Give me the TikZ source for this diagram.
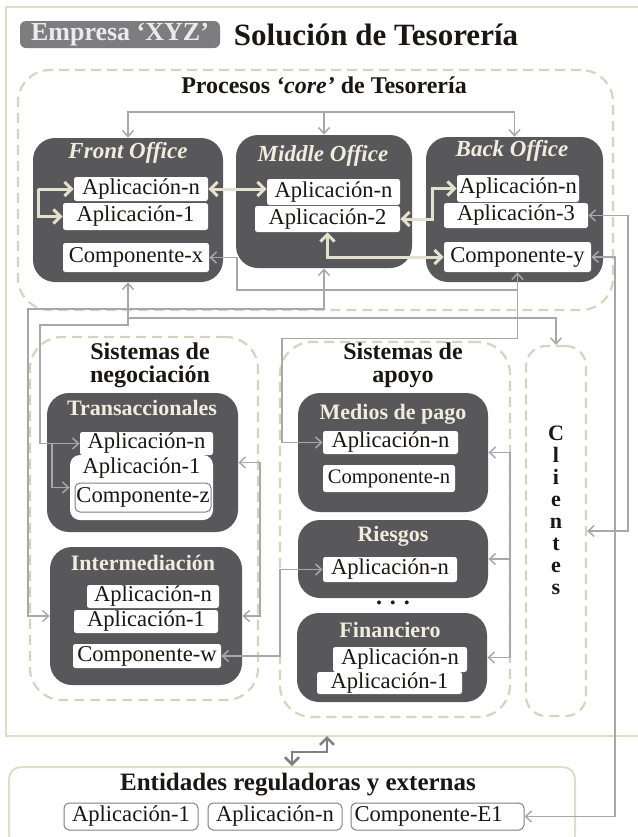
\documentclass[tikz,border=0pt]{standalone}
\usepackage{fontspec}
\setmainfont{Liberation Serif}
\usetikzlibrary{arrows.meta}

\definecolor{boxgray}{RGB}{88,88,90}
\definecolor{titlecream}{RGB}{240,236,222}
\definecolor{flowcream}{RGB}{228,224,206}
\definecolor{zonebeige}{RGB}{216,211,190}
\definecolor{linkgray}{RGB}{168,168,172}
\definecolor{framebeige}{RGB}{224,220,202}
\definecolor{tagfill}{RGB}{125,125,128}
\definecolor{inkblack}{RGB}{25,22,20}

\begin{document}
\begin{tikzpicture}[x=0.5pt, y=-0.5pt,
    office/.style={fill=boxgray, rounded corners=11pt, inner sep=0pt},
    app/.style={fill=white, rounded corners=1.2pt, inner sep=0pt, text=inkblack,
      font=\fontsize{11.3}{12}\selectfont},
    ext/.style={app, draw=gray, line width=0.5pt, rounded corners=2.5pt},
    boxtitle/.style={text=titlecream, font=\bfseries\fontsize{11}{12}\selectfont},
    zone/.style={draw=zonebeige, line width=1.1pt, dash pattern=on 5pt off 3pt,
      rounded corners=16pt, inner sep=0pt},
    zonetitle/.style={align=center, text=inkblack, font=\bfseries\fontsize{12}{11.5}\selectfont},
    link/.style={draw=linkgray, line width=0.75pt, >={Straight Barb[length=3pt,width=5.5pt]}},
    flow/.style={draw=flowcream, line width=1.5pt, >={Straight Barb[length=3.5pt,width=7pt]}},
    bigflow/.style={draw=gray, line width=1.3pt, >={Straight Barb[length=3.5pt,width=7pt]}}]

  \useasboundingbox (0,0) rectangle (638,837);

  \draw[framebeige, line width=1pt] (6,7) rectangle (660,736);

  \node[fill=tagfill, rounded corners=3pt, minimum width=100pt, minimum height=13.5pt,
    inner sep=0pt, text=white!92!black, font=\bfseries\fontsize{13}{14}\selectfont]
    (empresa) at (120,34.5) {Empresa ‘XYZ’};
  \node[text=inkblack, font=\bfseries\fontsize{15.5}{17}\selectfont] (titulo) at (376,35)
    {Solución de Tesorería};

  % zonas
  \node[zone, minimum width=297.5pt, minimum height=120pt] (core) at (315.5,190) {};
  \node[zone, minimum width=114pt, minimum height=181.5pt] (nego) at (144,518.5) {};
  \node[zone, minimum width=115pt, minimum height=187.5pt] (apoyo) at (395,529.5) {};
  \node[zone, minimum width=30pt, minimum height=185pt, rounded corners=10pt] (cl) at (556,531) {};

  \node[zonetitle] (core-title) at (324,85) {Procesos \textit{‘core’} de Tesorería};
  \node[zonetitle] (nego-title) at (150,365) {Sistemas de\\negociación};
  \node[zonetitle] (apoyo-title) at (403,365) {Sistemas de\\apoyo};
  \node[align=center, text=inkblack, font=\bfseries\fontsize{11}{11}\selectfont]
    (cl-title) at (556,510) {C\\l\\i\\e\\n\\t\\e\\s};

  % procesos core
  \node[office, minimum width=95pt, minimum height=72pt] (fo) at (128,210) {};
  \node[office, minimum width=88pt, minimum height=66.5pt] (mo) at (324,201.5) {};
  \node[office, minimum width=88.5pt, minimum height=72.5pt] (bo) at (514.5,209.5) {};
  \node[boxtitle, font=\bfseries\itshape\fontsize{11.5}{12}\selectfont] (fo-title) at (128,153) {Front Office};
  \node[boxtitle, font=\bfseries\itshape\fontsize{11.5}{12}\selectfont] (mo-title) at (323,156) {Middle Office};
  \node[boxtitle, font=\bfseries\itshape\fontsize{11.5}{12}\selectfont] (bo-title) at (512,151) {Back Office};

  \node[app, minimum width=67pt, minimum height=12pt] (fo-an) at (141,189) {Aplicación-n};
  \node[app, minimum width=72.5pt, minimum height=13.5pt] (fo-a1) at (135.5,216.5) {Aplicación-1};
  \node[app, minimum width=73pt, minimum height=14.5pt] (fo-cx) at (136,257.5) {Componente-x};
  \node[app, minimum width=66.5pt, minimum height=13pt] (mo-an) at (333.5,192) {Aplicación-n};
  \node[app, minimum width=72.5pt, minimum height=13pt] (mo-a2) at (327.5,219) {Aplicación-2};
  \node[app, minimum width=61pt, minimum height=13.5pt] (bo-an) at (518,188.5) {Aplicación-n};
  \node[app, minimum width=72pt, minimum height=12.5pt] (bo-a3) at (516,215.5) {Aplicación-3};
  \node[app, minimum width=73.5pt, minimum height=15pt] (bo-cy) at (517.5,257) {Componente-y};

  % sistemas de negociacion
  \node[office, minimum width=95.5pt, minimum height=69.5pt] (tr) at (142.5,462.5) {};
  \node[office, minimum width=96pt, minimum height=69pt] (im) at (146,616) {};
  \node[boxtitle] (tr-title) at (142,408) {Transaccionales};
  \node[boxtitle] (im-title) at (143,563) {Intermediación};

  \node[app, minimum width=66.5pt, minimum height=11.5pt] (tr-an) at (146.5,443.5) {Aplicación-n};
  \node[app, minimum width=71.5pt, minimum height=32.5pt, rounded corners=5pt] (tr-a1) at (141.5,487.5) {};
  \node[app] (tr-a1-title) at (141.5,468) {Aplicación-1};
  \node[ext, minimum width=68pt, minimum height=14.5pt] (tr-cz) at (143,497.5) {Componente-z};

  \node[app, minimum width=66pt, minimum height=11.5pt] (im-an) at (153,596.5) {Aplicación-n};
  \node[app, minimum width=72pt, minimum height=11.5pt] (im-a1) at (146,621.5) {Aplicación-1};
  \node[app, minimum width=74pt, minimum height=12pt] (im-cw) at (147,656) {Componente-w};

  % sistemas de apoyo
  \node[office, minimum width=95pt, minimum height=59.5pt] (me) at (393,452.5) {};
  \node[office, minimum width=95pt, minimum height=39pt] (ri) at (393,559) {};
  \node[office, minimum width=95pt, minimum height=44.5pt] (fi) at (392,657.5) {};
  \node[boxtitle] (me-title) at (393,414) {Medios de pago};
  \node[boxtitle] (ri-title) at (393,536) {Riesgos};
  \node[boxtitle] (fi-title) at (390,630) {Financiero};
  \node[text=inkblack, font=\bfseries\fontsize{12}{12}\selectfont] (dots) at (393,603) {. . .};

  \node[app, minimum width=67.5pt, minimum height=11.5pt] (me-an) at (390.5,442.5) {Aplicación-n};
  \node[app, minimum width=66pt, minimum height=13.5pt, font=\fontsize{10.3}{12}\selectfont] (me-cn) at (389,478.5) {Componente-n};
  \node[app, minimum width=67pt, minimum height=12.5pt] (ri-an) at (390,569.5) {Aplicación-n};
  \node[app, minimum width=67pt, minimum height=12.5pt] (fi-an) at (400,659.5) {Aplicación-n};
  \node[app, minimum width=72.5pt, minimum height=11pt] (fi-a1) at (389.5,683) {Aplicación-1};

  % entidades
  \node[draw=framebeige, line width=1pt, rounded corners=6pt, minimum width=283pt,
    minimum height=40pt] (en) at (292,807) {};
  \node[text=inkblack, font=\bfseries\fontsize{12.5}{14}\selectfont] (en-title) at (298,785)
    {Entidades reguladoras y externas};
  \node[ext, minimum width=67pt, minimum height=13.5pt] (en-a1) at (131,816.5) {Aplicación-1};
  \node[ext, minimum width=67pt, minimum height=13.5pt] (en-an) at (275,816.5) {Aplicación-n};
  \node[ext, minimum width=86.5pt, minimum height=13.5pt, align=left, text width=83pt]
    (en-e1) at (437.5,816.5) {Componente-E1};

  % flujos internos
  \coordinate (fo-fork) at (38,189);
  \draw[flow,->] (fo-fork) -- (fo-an.west);
  \draw[flow,->] (fo-fork) |- (fo-a1.west);
  \draw[flow,<->] (fo-an.east) -- (fo-an.east -| mo-an.west);
  \draw[flow,<->] (mo-a2.east) -- ++(32,0) |- (bo-an.west);
  \draw[flow,<->] (mo-a2.south) |- (bo-cy.west);

  % conexiones
  \coordinate (bus) at (324,112);
  \draw[link,->] (bus) -| (fo.north);
  \draw[link,->] (bus) -| (bo.north);
  \draw[link,->] (bus) -- (mo.north);

  \draw[link,<->] (bo-cy.south) -- ++(0,66) -| (282,442.5) -- (me-an.west);
  \coordinate (cy-bus) at (bo-cy.south |- 0,290);
  \draw[link,->] (cy-bus) -| (237,257.5) -- (fo-cx.east);
  \draw[link,<->] (mo.south) |- (28,309) |- (im.west);
  \draw[link,<->] (fo.south) |- (cl.north |- 0,318) -- (cl.north);
  \draw[link,->] (fo.south |- 0,318) -- ++(0,7) -| (40,443.5) -- (tr-an.west);
  \coordinate (tr-fork) at (52,443.5);
  \draw[link,->] (tr-fork) |- (tr-a1.west);
  \draw[link,<->] (bo-a3.east) -| (628,531) -- (cl.east);
  \draw[link,<->] (bo-cy.east) -| (615,816.5) -- (en-e1.east);
  \draw[link,<->] (tr.east) -- (260,462.5) |- (im.east);
  \draw[link,<->] (me.east) -- (510,452.5) |- (fi.east);
  \coordinate (ap-bus) at (510,559);
  \draw[link,->] (ap-bus) -- (ri.east);
  \draw[link,<->] (im-cw.east) -| (280,569.5) -- (ri-an.west);
  \coordinate (frame-s) at (327,736);
  \draw[bigflow,<->] (frame-s) |- (292,752) -- (en.north -| 292,0);
\end{tikzpicture}
\end{document}
